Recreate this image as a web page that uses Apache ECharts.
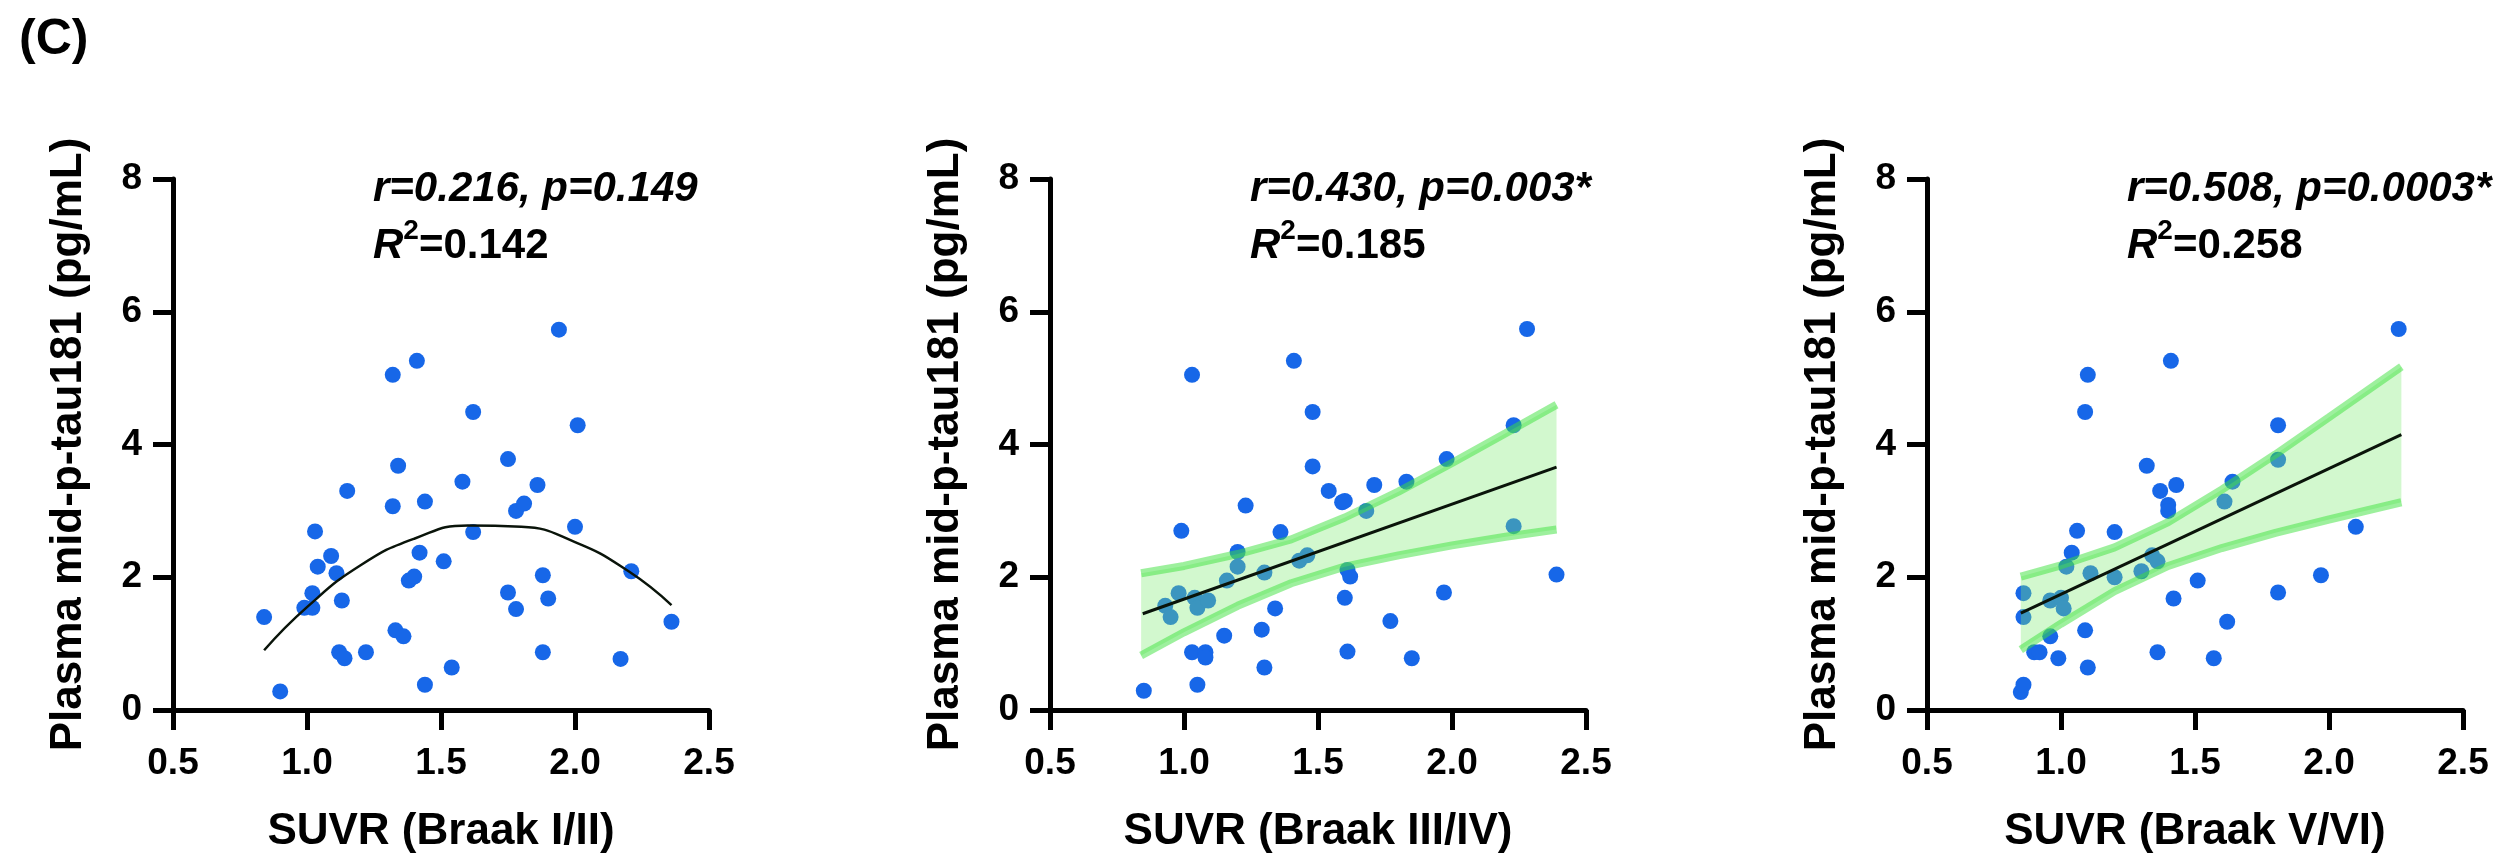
<!DOCTYPE html>
<html>
<head>
<meta charset="utf-8">
<script src="https://cdn.jsdelivr.net/npm/echarts@6/dist/echarts.min.js"></script>
<style>
    html, body { margin: 0; padding: 0; background: #fff; }
    #chart { width: 2511px; height: 859px; }
</style>
</head>
<body>
<div id="chart"></div>
<script>
// axis ticks
var xTicks = [0.5, 1.0, 1.5, 2.0, 2.5];
var yTicks = [0, 2, 4, 6, 8];

// panel 1 - Braak I/II
var suvr1 = [0.84, 0.90, 0.99, 1.02, 1.02, 1.03, 1.04, 1.09, 1.11, 1.13, 1.12, 1.14, 1.15, 1.22, 1.32, 1.32, 1.33, 1.36, 1.34, 1.38, 1.40, 1.41, 1.42, 1.44, 1.44, 1.51, 1.54, 1.58, 1.62, 1.62, 1.75, 1.75, 1.78, 1.78, 1.81, 1.86, 1.88, 1.88, 1.90, 1.94, 2.00, 2.01, 2.17, 2.21, 2.36];
var tau1 = [1.40, 0.28, 1.54, 1.76, 1.54, 2.69, 2.16, 2.32, 2.06, 1.65, 0.87, 0.78, 3.30, 0.87, 5.05, 3.07, 1.20, 1.11, 3.68, 1.95, 2.01, 5.26, 2.37, 3.14, 0.38, 2.24, 0.64, 3.44, 4.49, 2.68, 3.78, 1.77, 3.00, 1.52, 3.11, 3.39, 2.03, 0.87, 1.68, 5.73, 2.76, 4.29, 0.77, 2.09, 1.33];
var curveX1 = [0.84, 1.0, 1.2, 1.4, 1.6, 1.8, 2.0, 2.2, 2.36];
var curveY1 = [0.90, 1.55, 2.18, 2.58, 2.78, 2.76, 2.53, 2.09, 1.58];

// panel 2 - Braak III/IV
var suvr2 = [0.85, 0.93, 0.95, 0.98, 0.99, 1.03, 1.04, 1.03, 1.05, 1.05, 1.08, 1.08, 1.09, 1.15, 1.16, 1.20, 1.20, 1.23, 1.29, 1.30, 1.30, 1.34, 1.36, 1.41, 1.43, 1.46, 1.48, 1.48, 1.54, 1.59, 1.60, 1.60, 1.61, 1.62, 1.61, 1.68, 1.71, 1.77, 1.83, 1.85, 1.97, 1.98, 2.23, 2.23, 2.28, 2.39];
var tau2 = [0.29, 1.57, 1.40, 1.76, 2.70, 5.05, 1.69, 0.87, 0.38, 1.54, 0.87, 0.79, 1.65, 1.12, 1.95, 2.16, 2.38, 3.08, 1.21, 0.64, 2.07, 1.53, 2.68, 5.26, 2.25, 2.33, 3.67, 4.49, 3.30, 3.13, 3.15, 1.69, 2.11, 2.01, 0.88, 3.00, 3.39, 1.34, 3.44, 0.78, 1.77, 3.78, 2.77, 4.29, 5.74, 2.04];
var fitX2 = [0.846, 2.39];
var fitY2 = [1.45, 3.66];
var bandX2 = [0.84, 1.0, 1.2, 1.4, 1.6, 1.8, 2.0, 2.2, 2.39];
var upper2 = [2.06, 2.17, 2.35, 2.57, 2.90, 3.29, 3.72, 4.17, 4.60];
var lower2 = [0.82, 1.17, 1.57, 1.91, 2.16, 2.33, 2.48, 2.61, 2.72];

// panel 3 - Braak V/VI
var suvr3 = [0.85, 0.86, 0.86, 0.86, 0.90, 0.92, 0.96, 0.96, 0.99, 1.00, 1.01, 1.02, 1.04, 1.06, 1.09, 1.09, 1.10, 1.10, 1.11, 1.20, 1.20, 1.30, 1.32, 1.34, 1.36, 1.36, 1.37, 1.40, 1.40, 1.41, 1.42, 1.43, 1.51, 1.57, 1.61, 1.62, 1.64, 1.81, 1.81, 1.81, 1.97, 2.10, 2.26];
var tau3 = [0.27, 0.38, 1.40, 1.76, 0.87, 0.87, 1.11, 1.65, 0.78, 1.69, 1.53, 2.16, 2.37, 2.70, 1.20, 4.49, 5.05, 0.64, 2.06, 2.68, 2.00, 2.09, 3.68, 2.33, 2.24, 0.87, 3.30, 3.09, 3.00, 5.26, 1.68, 3.39, 1.95, 0.78, 3.14, 1.33, 3.44, 3.77, 1.77, 4.29, 2.03, 2.76, 5.74];
var fitX3 = [0.85, 2.27];
var fitY3 = [1.46, 4.15];
var bandX3 = [0.85, 1.0, 1.2, 1.4, 1.6, 1.8, 2.0, 2.27];
var upper3 = [2.01, 2.18, 2.45, 2.83, 3.32, 3.85, 4.41, 5.17];
var lower3 = [0.91, 1.30, 1.79, 2.17, 2.44, 2.67, 2.87, 3.13];

var xNames = ['SUVR (Braak I/II)', 'SUVR (Braak III/IV)', 'SUVR (Braak V/VI)'];
var yName = 'Plasma mid-p-tau181 (pg/mL)';
var statLine1 = ['r=0.216, p=0.149', 'r=0.430, p=0.003*', 'r=0.508, p=0.0003*'];
var statR2 = ['=0.142', '=0.185', '=0.258'];

(function () {
    var FONT = '"Liberation Sans", Arial, Helvetica, sans-serif';
    var lefts = [173, 1050, 1927];
    var myChart = echarts.init(document.getElementById('chart'));

    function zip(a, b) {
        var out = [];
        for (var i = 0; i < a.length; i++) out.push([a[i], b[i]]);
        return out;
    }

    var grids = [], xAxes = [], yAxes = [], series = [], graphics = [];
    for (var p = 0; p < 3; p++) {
        grids.push({ left: lefts[p], top: 179, width: 536, height: 536 });
        xAxes.push({
            gridIndex: p, type: 'value',
            min: xTicks[0], max: xTicks[xTicks.length - 1], interval: xTicks[1] - xTicks[0],
            name: xNames[p], nameLocation: 'middle', nameGap: 100,
            nameTextStyle: { fontSize: 44, fontWeight: 'bold', color: '#000', fontFamily: FONT },
            axisLine: { onZero: false, lineStyle: { color: '#000', width: 5 } },
            axisTick: { length: 20, lineStyle: { color: '#000', width: 5 } },
            axisLabel: { fontSize: 37, fontWeight: 'bold', color: '#000', fontFamily: FONT, margin: 35,
                formatter: function (v) { return v.toFixed(1); } },
            splitLine: { show: false }
        });
        yAxes.push({
            gridIndex: p, type: 'value',
            min: yTicks[0], max: yTicks[yTicks.length - 1], interval: yTicks[1] - yTicks[0],
            name: yName, nameLocation: 'middle', nameGap: 82,
            nameTextStyle: { fontSize: 44, fontWeight: 'bold', color: '#000', fontFamily: FONT },
            axisLine: { onZero: false, lineStyle: { color: '#000', width: 5 } },
            axisTick: { length: 20, lineStyle: { color: '#000', width: 5 } },
            axisLabel: { fontSize: 37, fontWeight: 'bold', color: '#000', fontFamily: FONT, margin: 31 },
            splitLine: { show: false }
        });
        graphics.push({
            type: 'text', left: lefts[p] + 200, top: 168, z: 100,
            style: {
                text: '{i|' + statLine1[p] + '}\n{ri|R}{sup|2}{b|' + statR2[p] + '}',
                fill: '#000',
                rich: {
                    i: { fontSize: 42, fontWeight: 'bold', fontStyle: 'italic', fontFamily: FONT, lineHeight: 57, fill: '#000' },
                    ri: { fontSize: 42, fontWeight: 'bold', fontStyle: 'italic', fontFamily: FONT, lineHeight: 57, fill: '#000' },
                    sup: { fontSize: 28, fontWeight: 'bold', fontFamily: FONT, lineHeight: 40, verticalAlign: 'top', fill: '#000' },
                    b: { fontSize: 42, fontWeight: 'bold', fontFamily: FONT, lineHeight: 57, fill: '#000' }
                }
            }
        });
    }

    graphics.push({
        type: 'text', left: 19, top: 15, z: 100,
        style: { text: '(C)', fill: '#000', font: 'bold 50px ' + FONT }
    });

    function scatter(idx, xs, ys) {
        return {
            type: 'scatter', xAxisIndex: idx, yAxisIndex: idx, z: 2,
            symbolSize: 16, itemStyle: { color: '#1767E8', opacity: 1 },
            data: zip(xs, ys), silent: true
        };
    }

    function fitLine(idx, xs, ys, smooth, w) {
        return {
            type: 'line', xAxisIndex: idx, yAxisIndex: idx, z: 5,
            data: zip(xs, ys), smooth: smooth, symbol: 'none', silent: true,
            lineStyle: { color: '#0a140a', width: w }
        };
    }

    function bandEdge(idx, xs, ys) {
        return {
            type: 'line', xAxisIndex: idx, yAxisIndex: idx, z: 4,
            data: zip(xs, ys), symbol: 'none', silent: true,
            lineStyle: { color: 'rgba(60,225,60,0.5)', width: 8, cap: 'butt' }
        };
    }

    function band(idx, bx, up, lo) {
        return {
            type: 'custom', xAxisIndex: idx, yAxisIndex: idx, z: 3, silent: true,
            data: [[bx[0], lo[0]]],
            renderItem: function (params, api) {
                var pts = [];
                for (var i = 0; i < bx.length; i++) pts.push(api.coord([bx[i], up[i]]));
                for (var j = bx.length - 1; j >= 0; j--) pts.push(api.coord([bx[j], lo[j]]));
                return { type: 'polygon', shape: { points: pts }, style: { fill: 'rgba(125,235,115,0.35)' } };
            }
        };
    }

    series.push(scatter(0, suvr1, tau1));
    series.push(fitLine(0, curveX1, curveY1, true, 2.5));

    series.push(scatter(1, suvr2, tau2));
    series.push(band(1, bandX2, upper2, lower2));
    series.push(bandEdge(1, bandX2, upper2));
    series.push(bandEdge(1, bandX2, lower2));
    series.push(fitLine(1, fitX2, fitY2, false, 3));

    series.push(scatter(2, suvr3, tau3));
    series.push(band(2, bandX3, upper3, lower3));
    series.push(bandEdge(2, bandX3, upper3));
    series.push(bandEdge(2, bandX3, lower3));
    series.push(fitLine(2, fitX3, fitY3, false, 3));

    var option = {
        backgroundColor: '#fff',
        animation: false,
        grid: grids,
        xAxis: xAxes,
        yAxis: yAxes,
        series: series,
        graphic: graphics
    };
    myChart.setOption(option);
})();
</script>
</body>
</html>
